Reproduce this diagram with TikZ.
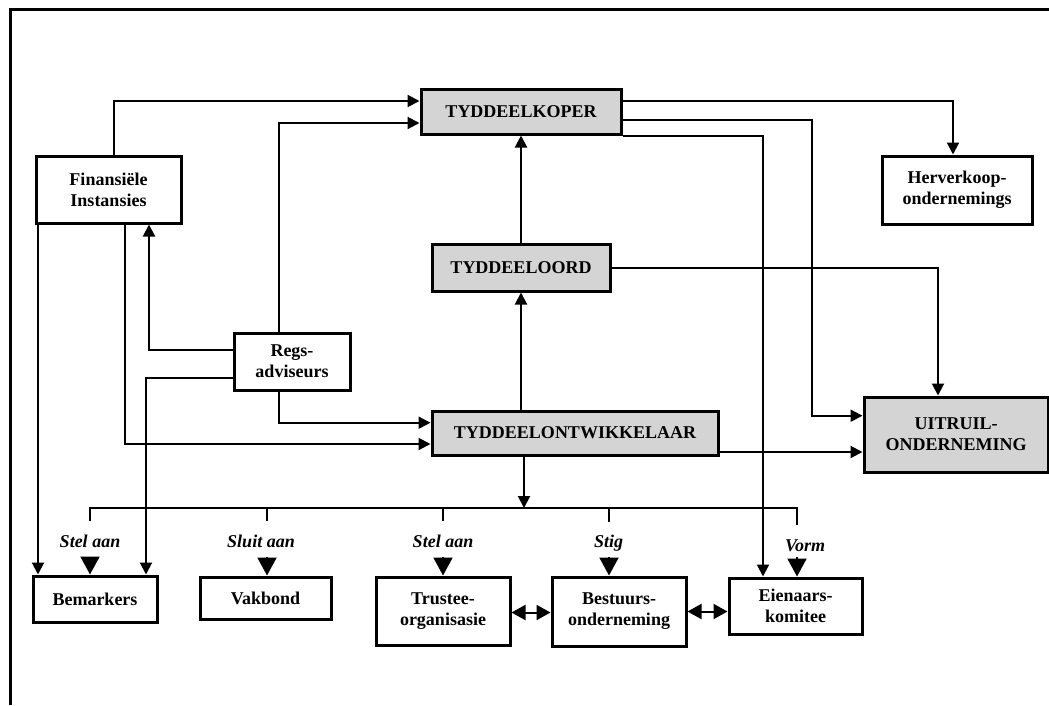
\documentclass[tikz,border=0pt]{standalone}
\usepackage{fontspec}
\setmainfont{Liberation Serif}
\usetikzlibrary{arrows.meta,calc}
\definecolor{boxgray}{RGB}{212,212,212}
\begin{document}
\begin{tikzpicture}[x=1pt,y=-1pt,
  box/.style={draw, line width=3pt, align=center, inner sep=0pt,
    font=\bfseries\fontsize{18}{21}\selectfont},
  gbox/.style={box, fill=boxgray},
  conn/.style={line width=2pt},
  arr/.style={conn, -{Triangle[length=12pt,width=12pt]}},
  bigarr/.style={conn, -{Triangle[length=18pt,width=19pt]}},
  dbl/.style={conn, {Triangle[length=14pt,width=15pt]}-{Triangle[length=14pt,width=15pt]}},
  lab/.style={font=\bfseries\itshape\fontsize{18}{21}\selectfont, inner sep=0pt}
]
\useasboundingbox (0,0) rectangle (1049,705);
% frame
\draw[line width=3pt] (10.5,705) -- (10.5,9) -- (1049,9);

% boxes
\node[box, minimum width=145pt, minimum height=67pt] (fin) at (108.5,189.5) {Finansiële\\Instansies};
\node[gbox, minimum width=200pt, minimum height=45pt] (tk) at (521,111.5) {TYDDEELKOPER};
\node[box, minimum width=150pt, minimum height=68pt] (herv) at (957,190) {Herverkoop-\\ondernemings};
\node[gbox, minimum width=178pt, minimum height=47pt] (toord) at (521,267.5) {TYDDEELOORD};
\node[box, minimum width=116pt, minimum height=57pt] (regs) at (292,361.5) {Regs-\\adviseurs};
\node[gbox, minimum width=286pt, minimum height=44pt] (tont) at (575,433) {TYDDEELONTWIKKELAAR};
\node[gbox, minimum width=184pt, minimum height=75pt] (uit) at (956,434.5) {UITRUIL-\\ONDERNEMING};
\node[box, minimum width=124pt, minimum height=46pt] (bem) at (95,599) {Bemarkers};
\node[box, minimum width=131pt, minimum height=42pt] (vak) at (265.5,598) {Vakbond};
\node[box, minimum width=134pt, minimum height=68pt] (trus) at (443,611) {Trustee-\\organisasie};
\node[box, minimum width=134pt, minimum height=69pt] (best) at (619,611.5) {Bestuurs-\\onderneming};
\node[box, minimum width=133pt, minimum height=56pt] (eien) at (795.5,606) {Eienaars-\\komitee};

% labels
\node[lab] (l1) at (90,541) {Stel aan};
\node[lab] (l2) at (261,541) {Sluit aan};
\node[lab] (l3) at (443,541) {Stel aan};
\node[lab] (l4) at (608.5,543) {Stig};
\node[lab] (l5) at (805,546) {Vorm};

% connectors
\draw[arr] ($(fin.north)+(5.5,0)$) |- ($(tk.west)+(0,-10.5)$);
\draw[arr] ($(regs.north)+(-13,0)$) |- ($(tk.west)+(0,11.5)$);
\draw[arr] ($(tk.east)+(0,-10.5)$) -| ($(herv.north)+(-4,0)$);
\draw[arr] ($(tk.east)+(0,8.5)$) -- ++(189,0) |- ($(uit.west)+(0,-18.8)$);
\draw[arr] (tk.south east) -| ($(eien.north)+(-32.5,0)$);
\draw[arr] (toord.east) -| ($(uit.north)+(-18,0)$);
\draw[arr] (tont.north -| toord.south) -- (toord.south);
\draw[arr] (toord.north) -- (tk.south);
\coordinate (p9) at ($(tont.east)+(0,19)$);
\draw[arr] (p9) -- (p9 -| uit.west);
\coordinate (p10) at ($(fin.south)+(-70.5,0)$);
\draw[arr] (p10) -- (p10 |- bem.north);
\draw[arr] ($(fin.south)+(16.5,0)$) |- ($(tont.west)+(0,11)$);
\draw[arr] ($(regs.west)+(0,-11.5)$) -| ($(fin.south)+(40.5,0)$);
\draw[arr] ($(regs.west)+(0,16.5)$) -| ($(bem.north)+(51,0)$);
\draw[arr] ($(regs.south)+(-13,0)$) |- ($(tont.west)+(0,-10.3)$);

% bus
\coordinate (b1) at (90,508);
\coordinate (b5) at (797,508);
\coordinate (t1) at (90,521);
\coordinate (t2) at (267,521);
\coordinate (t3) at (443,521);
\coordinate (t4) at (609,522);
\coordinate (t5) at (797,525);
\coordinate (p15) at ($(tont.south)+(-51,0)$);
\draw[arr] (p15) -- (p15 |- b1);
\draw[conn] (t1) -- (b1) -- (b5) -- (t5);
\draw[conn] (b1 -| t2) -- (t2);
\draw[conn] (b1 -| t3) -- (t3);
\draw[conn] (b1 -| t4) -- (t4);

% label arrows
\coordinate (a1) at (90,557);
\coordinate (a2) at (267,557);
\coordinate (a3) at (443,557);
\coordinate (a4) at (609,557);
\coordinate (a5) at (797,557);
\draw[bigarr] (a1) -- (a1 |- bem.north);
\draw[bigarr] (a2) -- (a2 |- vak.north);
\draw[bigarr] (a3) -- (a3 |- trus.north);
\draw[bigarr] (a4) -- (a4 |- best.north);
\draw[bigarr] (a5) -- (a5 |- eien.north);

% double arrows
\coordinate (p16) at ($(trus.east)+(0,1.5)$);
\draw[dbl] (p16) -- (p16 -| best.west);
\draw[dbl] (best.east) -- (best.east -| eien.west);
\end{tikzpicture}
\end{document}
